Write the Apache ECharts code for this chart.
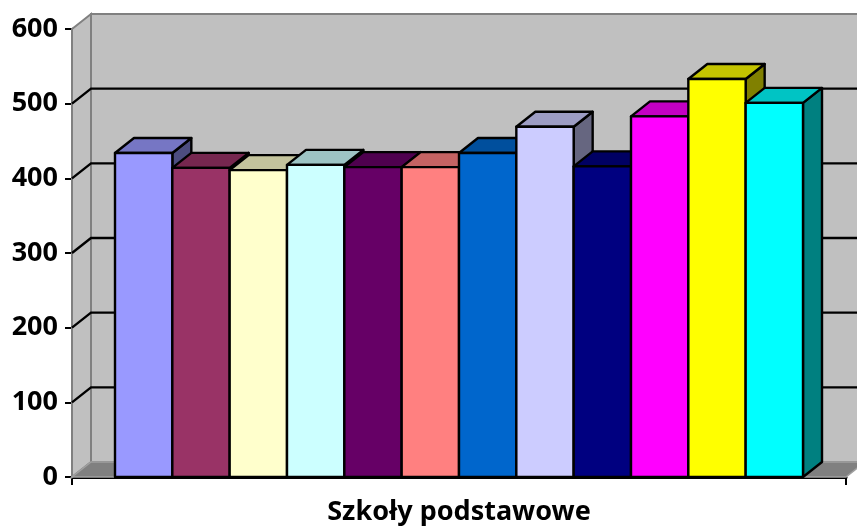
<!DOCTYPE html>
<html>
<head>
<meta charset="utf-8">
<script src="https://cdn.jsdelivr.net/npm/echarts@6/dist/echarts.min.js"></script>
<style>
  html, body { margin:0; padding:0; background:#fff; }
  #chart { width:857px; height:528px; }
</style>
</head>
<body>
<div id="chart"></div>
<script>
  // dane
  var category = ['Szkoły podstawowe'];
  var values = [434, 414, 411, 418, 415, 415, 434, 469, 416, 483, 533, 501];
  var colors = ['#9999FF', '#993366', '#FFFFCC', '#CCFFFF', '#660066', '#FF8080',
                '#0066CC', '#CCCCFF', '#000080', '#FF00FF', '#FFFF00', '#00FFFF'];
  var yTicks = [0, 100, 200, 300, 400, 500, 600];

  // glebokosc 3D (piksele)
  var DX = 19, DY = -15;

  function shade(hex, k) {
    var n = parseInt(hex.slice(1), 16);
    var r = Math.round(((n >> 16) & 255) * k);
    var g = Math.round(((n >> 8) & 255) * k);
    var b = Math.round((n & 255) * k);
    return 'rgb(' + r + ',' + g + ',' + b + ')';
  }

  var chart = echarts.init(document.getElementById('chart'));

  function renderWalls(params, api) {
    var bw = api.size([1, 0])[0];
    var c = api.coord([0, 0]);
    var x0 = c[0] - bw / 2, x1 = c[0] + bw / 2;
    var y0 = c[1];
    var yTop = api.coord([0, yTicks[yTicks.length - 1]])[1];
    var children = [];
    // tylna sciana
    children.push({ type: 'polygon', shape: { points: [[x0 + DX, yTop + DY], [x1 + DX + 40, yTop + DY], [x1 + DX + 40, y0 + DY], [x0 + DX, y0 + DY]] },
      style: { fill: '#C0C0C0', stroke: '#808080', lineWidth: 2 } });
    // lewa sciana
    children.push({ type: 'polygon', shape: { points: [[x0, yTop], [x0 + DX, yTop + DY], [x0 + DX, y0 + DY], [x0, y0]] },
      style: { fill: '#C0C0C0', stroke: '#808080', lineWidth: 2 } });
    // podloga
    children.push({ type: 'polygon', shape: { points: [[x0, y0], [x1, y0], [x1 + DX, y0 + DY], [x0 + DX, y0 + DY]] },
      style: { fill: '#808080', stroke: '#A0A0A0', lineWidth: 1.5 } });
    // linie siatki
    for (var i = 1; i < yTicks.length - 1; i++) {
      var y = api.coord([0, yTicks[i]])[1];
      children.push({ type: 'polyline', shape: { points: [[x0, y], [x0 + DX, y + DY], [x1 + DX + 40, y + DY]] },
        style: { fill: null, stroke: '#000', lineWidth: 2.4 } });
    }
    return { type: 'group', children: children };
  }

  function renderBar(params, api) {
    var idx = api.value(2);
    var bw = api.size([1, 0])[0];
    var c = api.coord([0, 0]);
    var start = c[0] - bw / 2 + bw * 43 / 774;
    var w = bw * (774 - 86) / 774 / values.length;
    var xl = start + idx * w, xr = xl + w;
    var yb = c[1];
    var yt = api.coord([0, api.value(1)])[1];
    var col = colors[idx];
    var st = { stroke: '#000', lineWidth: 2.4, lineJoin: 'round' };
    return {
      type: 'group',
      children: [
        { type: 'polygon', shape: { points: [[xr, yt], [xr + DX, yt + DY], [xr + DX, yb + DY], [xr, yb]] },
          style: Object.assign({ fill: shade(col, 0.5) }, st) },
        { type: 'polygon', shape: { points: [[xl, yt], [xr, yt], [xr + DX, yt + DY], [xl + DX, yt + DY]] },
          style: Object.assign({ fill: shade(col, 0.77) }, st) },
        { type: 'rect', shape: { x: xl, y: yt, width: w, height: yb - yt },
          style: Object.assign({ fill: col }, st) }
      ]
    };
  }

  chart.setOption({
    animation: false,
    grid: { left: 72, right: 11, top: 29, bottom: 51, outerBoundsMode: 'none' },
    xAxis: {
      type: 'category',
      data: category,
      name: category[0],
      nameLocation: 'middle',
      nameGap: 22,
      nameTextStyle: { fontFamily: 'Noto Sans', fontWeight: 'bold', fontSize: 27, color: '#000' },
      axisLabel: { show: false },
      axisLine: { lineStyle: { color: '#000', width: 3 } },
      axisTick: { show: true, length: 8, lineStyle: { color: '#000', width: 2 } }
    },
    yAxis: {
      type: 'value',
      min: 0,
      max: 600,
      interval: 100,
      axisLine: { show: true, lineStyle: { color: '#000', width: 2.5 } },
      axisTick: { show: true, length: 7, lineStyle: { color: '#000', width: 2 } },
      splitLine: { show: false },
      axisLabel: { fontFamily: 'Noto Sans', fontWeight: 'bold', fontSize: 27, color: '#000', margin: 14 }
    },
    series: [
      {
        type: 'custom',
        clip: false,
        z: 1,
        renderItem: renderWalls,
        data: [[0, 0]],
        silent: true
      },
      {
        type: 'custom',
        clip: false,
        z: 2,
        renderItem: renderBar,
        encode: { x: 0, y: 1 },
        data: values.map(function (v, i) { return [0, v, i]; })
      }
    ]
  });
</script>
</body>
</html>
